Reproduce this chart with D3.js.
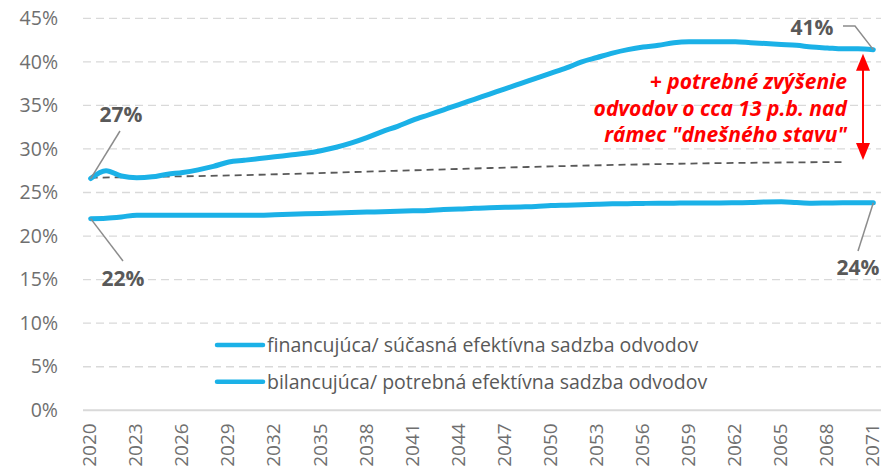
<!DOCTYPE html>
<html>
<head>
<meta charset="utf-8">
<script src="https://cdn.jsdelivr.net/npm/d3@7"></script>
<style>
  body { margin: 0; background: #fff; }
  svg { display: block; font-family: "Open Sans", sans-serif; }
</style>
</head>
<body>
<div id="chart"></div>
<script>
// categories
const years = d3.range(2020, 2072);
const xTickYears = years.filter((d, i) => i % 3 === 0);
const yTicks = [0, 5, 10, 15, 20, 25, 30, 35, 40, 45];

// bilancujuca / potrebna efektivna sadzba odvodov (%)
const bilancujuca = [
  26.6, 27.5, 26.9, 26.7, 26.8, 27.1, 27.3, 27.6, 28.0, 28.5,
  28.7, 28.9, 29.1, 29.3, 29.5, 29.8, 30.2, 30.7, 31.3, 32.0,
  32.6, 33.3, 33.9, 34.5, 35.1, 35.7, 36.3, 36.9, 37.5, 38.1,
  38.7, 39.3, 40.0, 40.5, 41.0, 41.4, 41.7, 41.9, 42.2, 42.3,
  42.3, 42.3, 42.3, 42.2, 42.1, 42.0, 41.9, 41.7, 41.6, 41.5,
  41.5, 41.4
];

// financujuca / sucasna efektivna sadzba odvodov (%)
const financujuca = [
  22.0, 22.05, 22.2, 22.4, 22.4, 22.4, 22.4, 22.4, 22.4, 22.4,
  22.4, 22.4, 22.45, 22.5, 22.55, 22.6, 22.65, 22.7, 22.75, 22.8,
  22.85, 22.9, 22.95, 23.05, 23.1, 23.2, 23.25, 23.3, 23.35, 23.4,
  23.5, 23.55, 23.6, 23.65, 23.7, 23.72, 23.75, 23.77, 23.78, 23.8,
  23.8, 23.8, 23.82, 23.85, 23.92, 23.95, 23.85, 23.78, 23.8, 23.82,
  23.82, 23.82
];

// "dnesny stav" trend (dashed)
const stavYears = [2020, 2030, 2040, 2050, 2060, 2069];
const stavValues = [26.7, 27.0, 27.5, 28.0, 28.35, 28.5];

const legendNames = [
  "financujúca/ súčasná efektívna sadzba odvodov",
  "bilancujúca/ potrebná efektívna sadzba odvodov"
];
const noteLines = [
  "+ potrebné zvýšenie",
  "odvodov o cca 13 p.b. nad",
  "rámec \"dnešného stavu\""
];

const width = 884, height = 470;
const plotLeft = 83, plotRight = 881, plotTop = 18.3, plotBottom = 410.3;
const lineColor = "#1bb1e7";

const svg = d3.select("#chart").append("svg")
    .attr("width", width)
    .attr("height", height);

const x = d3.scaleBand()
    .domain(years)
    .range([plotLeft, plotRight]);
const cx = d => x(d) + x.bandwidth() / 2;

const y = d3.scaleLinear()
    .domain([0, 45])
    .range([plotBottom, plotTop]);

// gridlines
svg.append("g")
  .selectAll("line")
  .data(yTicks)
  .enter()
  .append("line")
    .attr("x1", plotLeft)
    .attr("x2", plotRight)
    .attr("y1", d => y(d))
    .attr("y2", d => y(d))
    .attr("stroke", "#d9d9d9")
    .attr("stroke-width", d => d === 0 ? 2 : 1.3)
    .attr("stroke-dasharray", d => d === 0 ? null : "8,5");

// y axis
const yAxis = svg.append("g")
    .attr("transform", "translate(" + plotLeft + ",0)")
    .call(d3.axisLeft(y).tickValues(yTicks).tickSize(0).tickPadding(25).tickFormat(d => d + "%"));
yAxis.select(".domain").remove();
yAxis.selectAll("text")
    .attr("font-family", "Open Sans")
    .attr("font-size", 19.5)
    .attr("fill", "#6f6f6f");

// x axis
const xAxis = svg.append("g")
    .attr("transform", "translate(0," + plotBottom + ")")
    .call(d3.axisBottom(x).tickValues(xTickYears).tickSize(0));
xAxis.select(".domain").remove();
xAxis.selectAll("text")
    .attr("font-family", "Open Sans")
    .attr("font-size", 19)
    .attr("fill", "#6f6f6f")
    .attr("transform", "rotate(-90)")
    .attr("text-anchor", "end")
    .attr("x", -13)
    .attr("y", -1)
    .attr("dy", "0.35em");

// dashed trend
const stavLine = d3.line()
    .x(d => cx(d[0]))
    .y(d => y(d[1]))
    .curve(d3.curveMonotoneX);
svg.append("path")
    .datum(stavYears.map((d, i) => [d, stavValues[i]]))
    .attr("d", stavLine)
    .attr("fill", "none")
    .attr("stroke", "#595959")
    .attr("stroke-width", 1.8)
    .attr("stroke-dasharray", "7,5");

// series
const line = d3.line()
    .x((d, i) => cx(years[i]))
    .y(d => y(d))
    .curve(d3.curveMonotoneX);

[financujuca, bilancujuca].forEach(s => {
  svg.append("path")
      .datum(s)
      .attr("d", line)
      .attr("fill", "none")
      .attr("stroke", lineColor)
      .attr("stroke-width", 5)
      .attr("stroke-linecap", "round")
      .attr("stroke-linejoin", "round");
});

// value callouts
const last = years.length - 1;
const callouts = [
  {text: "27%", px: cx(years[0]), py: y(bilancujuca[0]), pts: [[120, 131]], lx: 121, ly: 115},
  {text: "22%", px: cx(years[0]), py: y(financujuca[0]), pts: [[123, 261]], lx: 123, ly: 279},
  {text: "24%", px: cx(years[last]), py: y(financujuca[last]), pts: [[858, 251]], lx: 858, ly: 268},
  {text: "41%", px: cx(years[last]), py: y(bilancujuca[last]), pts: [[855, 26], [843, 26]], lx: 812, ly: 28}
];
callouts.forEach(c => {
  svg.append("polyline")
      .attr("points", [[c.px, c.py]].concat(c.pts).map(p => p.join(",")).join(" "))
      .attr("fill", "none")
      .attr("stroke", "#8c8c8c")
      .attr("stroke-width", 1.5);
  svg.append("text")
      .attr("x", c.lx)
      .attr("y", c.ly)
      .attr("dy", "0.35em")
      .attr("text-anchor", "middle")
      .attr("font-size", 21)
      .attr("font-weight", "bold")
      .attr("fill", "#595959")
      .text(c.text);
});

// red double arrow
const ax = 863;
const a1 = y(bilancujuca[last]) + 4, a2 = y(28.5) - 2;
svg.append("line")
    .attr("x1", ax).attr("x2", ax)
    .attr("y1", a1 + 12).attr("y2", a2 - 12)
    .attr("stroke", "#ff0000")
    .attr("stroke-width", 2);
svg.append("path")
    .attr("d", `M${ax},${a1} L${ax - 7},${a1 + 17} L${ax + 7},${a1 + 17} Z`)
    .attr("fill", "#ff0000");
svg.append("path")
    .attr("d", `M${ax},${a2} L${ax - 7},${a2 - 17} L${ax + 7},${a2 - 17} Z`)
    .attr("fill", "#ff0000");

// red note
svg.append("g")
  .selectAll("text")
  .data(noteLines)
  .enter()
  .append("text")
    .attr("x", 847)
    .attr("y", (d, i) => 89 + i * 26.5)
    .attr("text-anchor", "end")
    .attr("font-size", 21)
    .attr("font-weight", "bold")
    .attr("font-style", "italic")
    .attr("fill", "#ff0000")
    .text(d => d);

// legend
const legend = svg.append("g")
  .selectAll("g")
  .data(legendNames)
  .enter()
  .append("g")
    .attr("transform", (d, i) => "translate(217," + (345 + i * 36.7) + ")");
legend.append("line")
    .attr("x1", 0).attr("x2", 46)
    .attr("stroke", lineColor)
    .attr("stroke-width", 4.5)
    .attr("stroke-linecap", "round");
legend.append("text")
    .attr("x", 50)
    .attr("dy", "0.35em")
    .attr("font-size", 19.5)
    .attr("fill", "#595959")
    .text(d => d);
</script>
</body>
</html>
